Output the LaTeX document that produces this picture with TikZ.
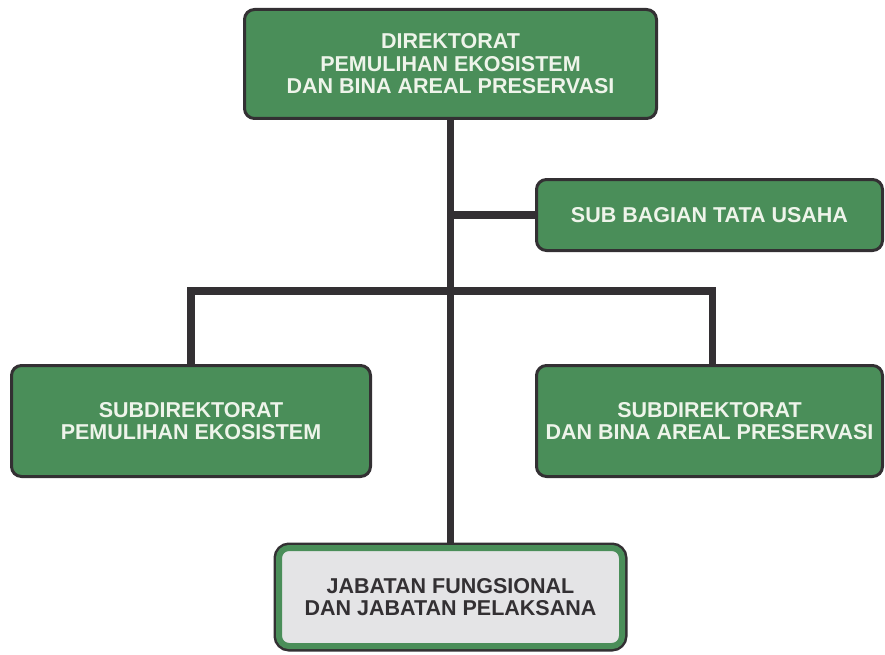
\documentclass[tikz,border=0pt]{standalone}
\usepackage{fontspec}
\setmainfont{Liberation Sans}

\definecolor{boxgreen}{HTML}{4A8E59}
\definecolor{linedark}{HTML}{333033}
\definecolor{boxgray}{HTML}{E4E4E6}
\definecolor{textlight}{HTML}{EEF4EA}

\begin{document}
\begin{tikzpicture}[x=1pt, y=-1pt,
                    green box/.style={rectangle, rounded corners=10pt, draw=linedark, line width=3pt,
                      fill=boxgreen, text=textlight, align=center, inner sep=0pt,
                      font=\fontsize{21.5}{22.5}\selectfont\bfseries},
                    gray box/.style={rectangle, rounded corners=10pt, fill=boxgray, draw=boxgreen,
                      line width=6pt, preaction={draw=linedark, line width=11pt},
                      text=linedark, align=center, inner sep=0pt,
                      font=\fontsize{21.5}{22.5}\selectfont\bfseries},
                    connector/.style={draw=linedark, line width=7.5pt}]

  \useasboundingbox (0,0) rectangle (885,655);

  \node[green box, minimum width=412pt, minimum height=109pt] (dir) at (450.5,64)
    {DIREKTORAT\\PEMULIHAN EKOSISTEM\\DAN BINA AREAL PRESERVASI};
  \node[green box, minimum width=346pt, minimum height=71pt] (tu) at (709.5,215)
    {SUB BAGIAN TATA USAHA};
  \node[green box, minimum width=359pt, minimum height=111pt] (sdpe) at (191,421)
    {SUBDIREKTORAT\\PEMULIHAN EKOSISTEM};
  \node[green box, minimum width=346pt, minimum height=111pt] (sdba) at (709.5,421)
    {SUBDIREKTORAT\\DAN BINA AREAL PRESERVASI};
  \node[gray box, minimum width=343pt, minimum height=98pt] (jab) at (450.5,597)
    {JABATAN FUNGSIONAL\\DAN JABATAN PELAKSANA};

  \coordinate (bar) at (450.5,291);

  % connectors
  \draw[connector] (dir.south) -- (jab.north);
  \draw[connector] (dir.south |- tu.west) -- (tu.west);
  \draw[connector] (sdpe.north) |- (bar) -| ([xshift=3pt]sdba.north);

\end{tikzpicture}
\end{document}
